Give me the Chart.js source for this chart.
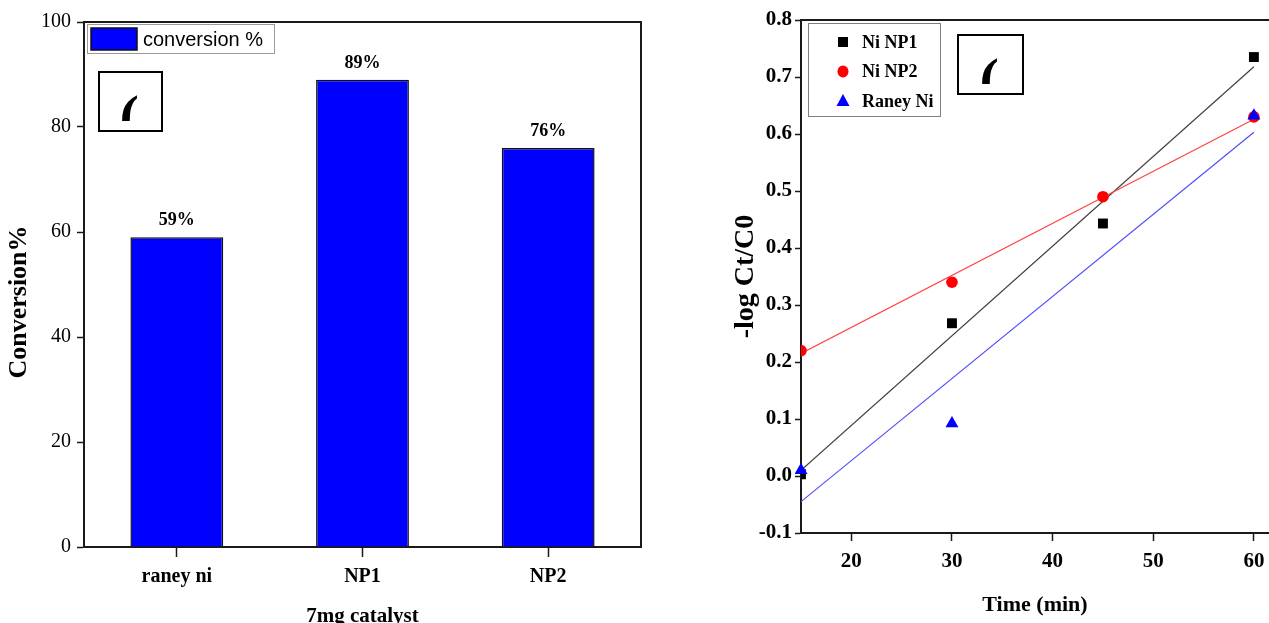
<!DOCTYPE html>
<html>
<head>
<meta charset="utf-8">
<script src="https://cdn.jsdelivr.net/npm/chart.js@4/dist/chart.umd.min.js"></script>
<style>
  html, body { margin: 0; padding: 0; background: #fff; overflow: hidden; width: 1269px; height: 623px; }
  canvas { position: absolute; top: 0; }
  #left { left: 0; }
  #right { left: 690px; }
</style>
</head>
<body>
<canvas id="left" width="680" height="640"></canvas>
<canvas id="right" width="579" height="623"></canvas>
<script>
// ---------- data: left panel (bar) ----------
const barCategories = ['raney ni', 'NP1', 'NP2'];
const conversionValues = [59, 89, 76];
const conversionTicks = [0, 20, 40, 60, 80, 100];
const barSeriesLabel = 'conversion %';
const barAxisTitleY = 'Conversion%';
const barAxisTitleX = '7mg catalyst';
const panelLabel = '(';

// ---------- data: right panel (kinetics) ----------
const timeMin = [15, 30, 45, 60];
const niNP1 = [0.003, 0.268, 0.443, 0.735];
const niNP2 = [0.22, 0.34, 0.49, 0.63];
const raneyNi = [0.01, 0.092, null, 0.632];
const fitTime = [15, 60];
const fitNP1 = [0.01, 0.718];
const fitNP2 = [0.215, 0.626];
const fitRaney = [-0.045, 0.603];
const timeTicks = [20, 30, 40, 50, 60];
const logTicks = [-0.1, 0.0, 0.1, 0.2, 0.3, 0.4, 0.5, 0.6, 0.7, 0.8];

const SERIF = "'Liberation Serif', 'Times New Roman', serif";
const SANS = "'Liberation Sans', Arial, sans-serif";
const AXIS = '#1a1a1a';

function pts(xs, ys) {
  return xs.map((x, i) => ({ x: x, y: ys[i] })).filter(p => p.y !== null);
}

// panel label: upper half of a bold parenthesis inside a framed box
function drawGlyphBox(ctx, x, y, w, h) {
  ctx.save();
  ctx.strokeStyle = '#000';
  ctx.lineWidth = 2;
  ctx.strokeRect(x, y, w, h);
  ctx.font = 'bold 58px ' + SERIF;
  ctx.fillStyle = '#000';
  ctx.textBaseline = 'alphabetic';
  ctx.textAlign = 'left';
  const m = ctx.measureText(panelLabel);
  const inkL = -m.actualBoundingBoxLeft, inkR = m.actualBoundingBoxRight;
  const inkT = -m.actualBoundingBoxAscent, inkB = m.actualBoundingBoxDescent;
  const midInk = (inkT + inkB) / 2;
  const cutY = y + h - 10;           // flat bottom of the glyph
  const cx = x + w / 2 - 1;
  const gx = cx - (inkL + inkR) / 2;
  const gy = cutY - midInk;
  ctx.beginPath();
  ctx.rect(x + 1, y + 1, w - 2, cutY - y - 1);
  ctx.clip();
  ctx.fillText(panelLabel, gx, gy);
  ctx.restore();
}

// ---------- left chart ----------
const leftPlugin = {
  id: 'leftDeco',
  afterDatasetsDraw(chart) {
    const ctx = chart.ctx;
    const a = chart.chartArea;
    const meta = chart.getDatasetMeta(0);
    ctx.save();
    // value labels
    ctx.font = 'bold 18px ' + SERIF;
    ctx.fillStyle = '#000';
    ctx.textAlign = 'center';
    ctx.textBaseline = 'alphabetic';
    meta.data.forEach((bar, i) => {
      ctx.fillText(chart.data.datasets[0].data[i] + '%', bar.x, bar.y - 12);
    });
    // frame top/right
    ctx.strokeStyle = AXIS;
    ctx.lineWidth = 2;
    ctx.beginPath();
    ctx.moveTo(a.left, a.top);
    ctx.lineTo(a.right, a.top);
    ctx.lineTo(a.right, a.bottom);
    ctx.stroke();
    // legend
    ctx.lineWidth = 1;
    ctx.strokeStyle = '#9a9a9a';
    ctx.strokeRect(87.5, 24.5, 187, 29);
    ctx.fillStyle = chart.data.datasets[0].backgroundColor;
    ctx.fillRect(91, 28, 46, 22);
    ctx.strokeStyle = '#111';
    ctx.lineWidth = 1.5;
    ctx.strokeRect(91, 28, 46, 22);
    ctx.fillStyle = '#000';
    ctx.font = '20px ' + SANS;
    ctx.textAlign = 'left';
    ctx.textBaseline = 'middle';
    ctx.fillText(chart.data.datasets[0].label, 143, 40);
    // y-axis title
    ctx.translate(19, 302);
    ctx.rotate(-Math.PI / 2);
    ctx.font = 'bold 26px ' + SERIF;
    ctx.textAlign = 'center';
    ctx.textBaseline = 'middle';
    ctx.fillText(barAxisTitleY, 0, 0);
    ctx.restore();
    drawGlyphBox(ctx, 99, 72, 63, 59);
  }
};

new Chart(document.getElementById('left'), {
  type: 'bar',
  data: {
    labels: barCategories,
    datasets: [{
      label: barSeriesLabel,
      data: conversionValues,
      backgroundColor: '#0000ff',
      borderColor: '#111',
      borderWidth: 1.5,
      barPercentage: 0.5,
      categoryPercentage: 1.0
    }]
  },
  options: {
    responsive: false,
    devicePixelRatio: 1,
    animation: false,
    layout: { autoPadding: false, padding: { left: 0, top: 22, right: 39, bottom: 0 } },
    plugins: { legend: { display: false }, tooltip: { enabled: false } },
    scales: {
      x: {
        grid: { display: true, offset: false, drawOnChartArea: false, drawTicks: true, tickLength: 10, color: AXIS, tickWidth: 1.5 },
        border: { display: true, color: AXIS, width: 2 },
        ticks: { color: '#000', font: { family: SERIF, size: 20, weight: 'bold' }, padding: 8, maxRotation: 0 },
        title: { display: true, text: barAxisTitleX, color: '#000', font: { family: SERIF, size: 21, weight: 'bold' }, padding: { top: 0, bottom: 11 } },
        afterFit(s) { s.height = 93; s.paddingLeft = 0; s.paddingRight = 0; }
      },
      y: {
        min: 0, max: 100,
        afterBuildTicks(s) { s.ticks = conversionTicks.map(v => ({ value: v })); },
        grid: { display: true, drawOnChartArea: false, drawTicks: true, tickLength: 7, color: AXIS, tickWidth: 1.5 },
        border: { display: true, color: AXIS, width: 2 },
        ticks: { color: '#000', font: { family: SERIF, size: 20 }, padding: 6 },
        title: { display: false },
        afterFit(s) { s.width = 84; s.paddingTop = 0; s.paddingBottom = 0; }
      }
    }
  },
  plugins: [leftPlugin]
});

// ---------- right chart ----------
function drawMarker(ctx, style, x, y, color) {
  ctx.save();
  ctx.fillStyle = color;
  ctx.beginPath();
  if (style === 'rect') {
    ctx.rect(x - 5, y - 5, 10, 10);
  } else if (style === 'circle') {
    ctx.ellipse(x, y, 5.5, 6, 0, 0, Math.PI * 2);
  } else {
    ctx.moveTo(x, y - 7);
    ctx.lineTo(x + 6.5, y + 5);
    ctx.lineTo(x - 6.5, y + 5);
    ctx.closePath();
  }
  ctx.fill();
  ctx.restore();
}

const rightPlugin = {
  id: 'rightDeco',
  afterDraw(chart) {
    const ctx = chart.ctx;
    const a = chart.chartArea;
    const ox = 690;
    ctx.save();
    ctx.strokeStyle = AXIS;
    ctx.lineWidth = 2;
    ctx.beginPath();
    ctx.moveTo(a.left, a.top);
    ctx.lineTo(a.right + 5, a.top);
    ctx.stroke();
    // legend
    ctx.lineWidth = 1;
    ctx.strokeStyle = '#808080';
    ctx.strokeRect(808.5 - ox, 23.5, 132, 93);
    const entries = chart.data.datasets.filter(d => d.showInLegend);
    entries.sort((p, q) => p.legendOrder - q.legendOrder);
    ctx.font = 'bold 18px ' + SERIF;
    ctx.textAlign = 'left';
    ctx.textBaseline = 'middle';
    entries.forEach((d, i) => {
      const y = 42 + i * 29.5;
      drawMarker(ctx, d.pointStyle, 843 - ox, y, d.backgroundColor);
      ctx.fillStyle = '#000';
      ctx.fillText(d.label, 862 - ox, y + 1);
    });
    ctx.restore();
    drawGlyphBox(ctx, 958 - ox, 35, 65, 59);
  }
};

new Chart(document.getElementById('right'), {
  type: 'scatter',
  data: {
    datasets: [
      { label: 'Raney Ni', data: pts(timeMin, raneyNi), pointStyle: 'triangle', pointRadius: 7.5, backgroundColor: '#0000ff', borderColor: '#0000ff', borderWidth: 0, showInLegend: true, legendOrder: 3, clip: 6 },
      { label: 'Ni NP2', data: pts(timeMin, niNP2), pointStyle: 'circle', pointRadius: 5.8, backgroundColor: '#ff0000', borderColor: '#ff0000', borderWidth: 0, showInLegend: true, legendOrder: 2, clip: 0 },
      { label: 'Ni NP1', data: pts(timeMin, niNP1), pointStyle: 'rect', pointRadius: 7, backgroundColor: '#000000', borderColor: '#000000', borderWidth: 0, showInLegend: true, legendOrder: 1, clip: 0 },
      { type: 'line', label: 'fit Raney Ni', data: pts(fitTime, fitRaney), borderColor: '#4d4dff', borderWidth: 1.2, pointRadius: 0, showLine: true, fill: false },
      { type: 'line', label: 'fit Ni NP2', data: pts(fitTime, fitNP2), borderColor: '#ff4444', borderWidth: 1.2, pointRadius: 0, showLine: true, fill: false },
      { type: 'line', label: 'fit Ni NP1', data: pts(fitTime, fitNP1), borderColor: '#404040', borderWidth: 1.2, pointRadius: 0, showLine: true, fill: false }
    ]
  },
  options: {
    responsive: false,
    devicePixelRatio: 1,
    animation: false,
    layout: { autoPadding: false, padding: { left: 0, top: 20, right: 0, bottom: 0 } },
    plugins: { legend: { display: false }, tooltip: { enabled: false } },
    scales: {
      x: {
        type: 'linear', min: 15, max: 61.5,
        afterBuildTicks(s) { s.ticks = timeTicks.map(v => ({ value: v })); },
        grid: { display: true, drawOnChartArea: false, drawTicks: true, tickLength: 8, color: AXIS, tickWidth: 1.5 },
        border: { display: true, color: AXIS, width: 2 },
        ticks: { color: '#000', font: { family: SERIF, size: 21, weight: 'bold' }, padding: 8, maxRotation: 0 },
        title: { display: true, text: 'Time (min)', color: '#000', font: { family: SERIF, size: 22, weight: 'bold' }, padding: { top: 0, bottom: 4 } },
        afterFit(s) { s.height = 90; s.paddingLeft = 0; s.paddingRight = 0; }
      },
      y: {
        type: 'linear', min: -0.1, max: 0.8,
        afterBuildTicks(s) { s.ticks = logTicks.map(v => ({ value: v })); },
        grid: { display: true, drawOnChartArea: false, drawTicks: true, tickLength: 6, color: AXIS, tickWidth: 1.5 },
        border: { display: true, color: AXIS, width: 2 },
        ticks: { color: '#000', font: { family: SERIF, size: 21, weight: 'bold' }, padding: 3, callback: v => v.toFixed(1) },
        title: { display: true, text: '-log Ct/C0', color: '#000', font: { family: SERIF, size: 28, weight: 'bold' }, padding: { top: 39, bottom: 0 } },
        afterFit(s) { s.width = 111; s.paddingTop = 0; s.paddingBottom = 0; }
      }
    }
  },
  plugins: [rightPlugin]
});
</script>
</body>
</html>
